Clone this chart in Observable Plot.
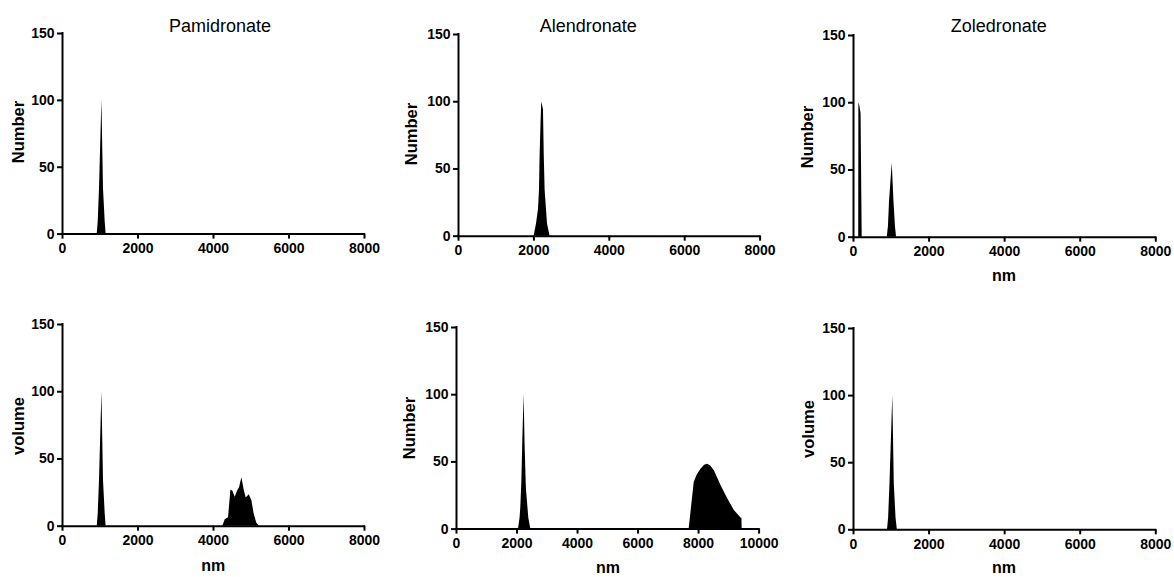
<!DOCTYPE html>
<html><head><meta charset="utf-8">
<script src="https://cdn.jsdelivr.net/npm/d3@7"></script>
<script src="https://cdn.jsdelivr.net/npm/@observablehq/plot@0.6"></script>
<style>
body{margin:0;background:#fff;}
#chart{position:relative;width:1174px;height:577px;font-family:"Liberation Sans",Arial,sans-serif;color:#000;overflow:hidden;}
.title{position:absolute;font-size:18px;transform:translate(-50%,-50%);white-space:nowrap;}
.ylab{position:absolute;font-size:16.5px;font-weight:bold;transform:translate(-50%,-50%) rotate(-90deg);white-space:nowrap;}
.xlab{position:absolute;font-size:16px;font-weight:bold;transform:translate(-50%,-50%);white-space:nowrap;}
#chart svg{position:absolute;}
</style></head><body><div id="chart"></div>
<script>
// ---- data ----
const drugs = ["Pamidronate", "Alendronate", "Zoledronate"];
const yTicks = [0, 50, 100, 150];
const xTicks8000 = [0, 2000, 4000, 6000, 8000];
const xTicks10000 = [0, 2000, 4000, 6000, 8000, 10000];

// Pamidronate – Number
const pamNumX = [920, 946, 980, 1044, 1086, 1131, 1155];
const pamNumY = [0, 9, 34, 100, 34, 9, 0];
// Alendronate – Number
const aleNumX = [2006, 2069, 2122, 2148, 2164, 2190, 2209, 2254, 2275, 2298, 2361, 2430];
const aleNumY = [0, 9, 20, 34, 59, 85, 100, 94, 60, 34, 9, 0];
// Zoledronate – Number
const zolNumX = [138, 142, 165, 200, 230, 893, 925, 954, 1025, 1070, 1110, 1139];
const zolNumY = [0, 100, 98, 92, 0, 0, 8, 27, 55, 27, 8, 0];
// Pamidronate – volume
const pamVolX = [920, 946, 980, 1044, 1086, 1131, 1155, 4249, 4310, 4398, 4461, 4514, 4575, 4636, 4689, 4752, 4813, 4866, 4946, 5017, 5077, 5148, 5218];
const pamVolY = [0, 9, 34, 100, 34, 9, 0, 0, 4.7, 6.2, 27, 26, 21.6, 26, 28.5, 36, 27, 21, 23.3, 19, 9, 2.2, 0];
// Alendronate – second row (labelled Number)
const aleVolX = [2049, 2100, 2125, 2160, 2190, 2234, 2270, 2310, 2390, 2455, 7689, 7856, 7950, 8078, 8200, 8300, 8400, 8522, 8744, 8967, 9189, 9411, 9433, 9440];
const aleVolY = [0, 8, 16, 35, 65, 100, 60, 30, 8, 0, 0, 34.7, 40, 44.6, 47.5, 48.3, 47, 43.4, 32.2, 22.3, 13.6, 8, 8, 0];
// Zoledronate – volume
const zolVolX = [900, 930, 965, 1040, 1080, 1125, 1160];
const zolVolY = [0, 9, 34, 100, 34, 9, 0];

// ---- layout ----
const panels = [
  {xs: pamNumX, ys: pamNumY, xmax: 8000, xticks: xTicks8000, box: [62.3, 32.7, 364.3, 233.3], title: drugs[0], titlePos: [220, 25.7], ylab: "Number", ylabPos: [17.5, 132]},
  {xs: aleNumX, ys: aleNumY, xmax: 8000, xticks: xTicks8000, box: [457.7, 34, 759.3, 235.7], title: drugs[1], titlePos: [588.3, 25.5], ylab: "Number", ylabPos: [410.8, 133.5]},
  {xs: zolNumX, ys: zolNumY, xmax: 8000, xticks: xTicks8000, box: [852.7, 35, 1155, 236.7], title: drugs[2], titlePos: [998.7, 25.5], ylab: "Number", ylabPos: [806.7, 136.5], xlab: "nm", xlabPos: [1004, 275.5]},
  {xs: pamVolX, ys: pamVolY, xmax: 8000, xticks: xTicks8000, box: [62.3, 324.3, 364.3, 526], ylab: "volume", ylabPos: [18.3, 425.8], xlab: "nm", xlabPos: [213.2, 565.6]},
  {xs: aleVolX, ys: aleVolY, xmax: 10000, xticks: xTicks10000, box: [455.7, 326.7, 758.3, 528.3], ylab: "Number", ylabPos: [409.2, 428.3], xlab: "nm", xlabPos: [608, 568]},
  {xs: zolVolX, ys: zolVolY, xmax: 8000, xticks: xTicks8000, box: [852.7, 327.7, 1155, 529], ylab: "volume", ylabPos: [807.5, 429], xlab: "nm", xlabPos: [1004, 567.5]}
];

const chart = document.getElementById("chart");
const fmt = d3.format("d");

for (const p of panels) {
  const [l, t, r, b] = p.box;
  const ml = 55, mt = 20, mr = 30, mb = 40;
  const data = p.xs.map((x, i) => ({x, y: p.ys[i]}));
  const svg = Plot.plot({
    width: ml + (r - l) + mr,
    height: mt + (b - t) + mb,
    marginLeft: ml, marginTop: mt, marginRight: mr, marginBottom: mb,
    x: {domain: [0, p.xmax]},
    y: {domain: [0, 150]},
    style: {fontFamily: "'Liberation Sans', Arial, sans-serif", fontSize: "14px", fontWeight: "bold", color: "black", background: "transparent", overflow: "visible"},
    marks: [
      Plot.areaY(data, {x: "x", y: "y", fill: "black", curve: "linear"}),
      Plot.ruleY([0], {x1: 0, x2: p.xmax, stroke: "black", strokeWidth: 2, strokeLinecap: "square"}),
      Plot.ruleX([0], {y1: 0, y2: 150, stroke: "black", strokeWidth: 2, strokeLinecap: "square"}),
      Plot.axisX({ticks: p.xticks, tickSize: 5, tickPadding: 4, strokeWidth: 2, stroke: "black", fill: "black", label: null, tickFormat: fmt}),
      Plot.axisY({ticks: yTicks, tickSize: 5, tickPadding: 3, strokeWidth: 2, stroke: "black", fill: "black", label: null, tickFormat: fmt})
    ]
  });
  svg.style.left = (l - ml) + "px";
  svg.style.top = (t - mt) + "px";
  chart.appendChild(svg);

  if (p.title) {
    const d = document.createElement("div");
    d.className = "title"; d.textContent = p.title;
    d.style.left = p.titlePos[0] + "px"; d.style.top = p.titlePos[1] + "px";
    chart.appendChild(d);
  }
  const yl = document.createElement("div");
  yl.className = "ylab"; yl.textContent = p.ylab;
  yl.style.left = p.ylabPos[0] + "px"; yl.style.top = p.ylabPos[1] + "px";
  chart.appendChild(yl);
  if (p.xlab) {
    const xl = document.createElement("div");
    xl.className = "xlab"; xl.textContent = p.xlab;
    xl.style.left = p.xlabPos[0] + "px"; xl.style.top = p.xlabPos[1] + "px";
    chart.appendChild(xl);
  }
}
</script></body></html>
